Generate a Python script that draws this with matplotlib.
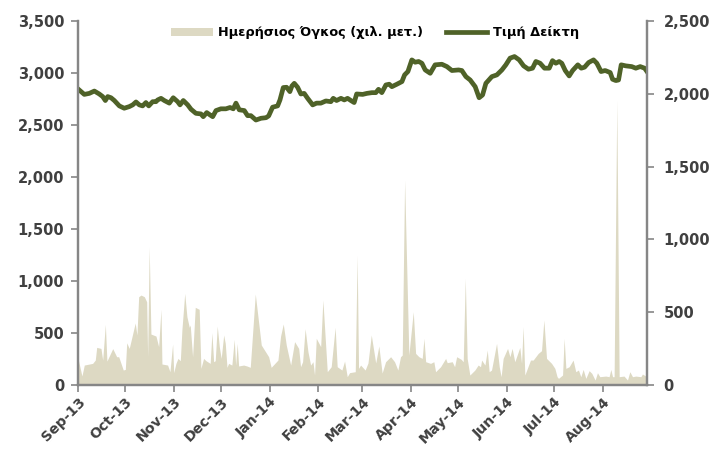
import numpy as np
import pandas as pd
import matplotlib
matplotlib.use('Agg')
import matplotlib.pyplot as plt
import matplotlib.dates as mdates
from matplotlib.ticker import MultipleLocator, FuncFormatter

# Daily volume (thousand shares): day offset from 2013-09-01, value
VOL_DAYS = [0, 2.5, 4.0, 9.3, 11.0, 11.9, 14.6, 15.7, 17.4, 18.4, 22.1, 24.6, 25.9,
            28.8, 30.1, 31.0, 32.6, 36.4, 37.5, 38.6, 40.1, 42.2, 43.7, 44.3, 45.3,
            46.4, 49.6, 51.3, 52.8, 53.4, 57.0, 58.5, 60.2, 60.9, 62.3, 63.6, 65.1,
            66.1, 67.9, 69.3, 70.8, 71.4, 72.9, 74.6, 77.1, 78.2, 79.9, 81.4, 84.1,
            85.2, 86.3, 87.3, 88.6, 89.9, 91.1, 92.7, 93.7, 94.8, 95.8, 97.9, 99.4,
            100.3, 101.3, 102.2, 105.4, 107.5, 109.6, 112.8, 116.6, 121.3, 122.9,
            127.2, 128.9, 130.6, 132.5, 135.3, 137.8, 140.4, 141.6, 142.9, 144.5,
            146.3, 148.0, 149.5, 150.5, 151.6, 154.4, 155.8, 158.6, 161.1, 163.6,
            164.9, 167.9, 169.6, 171.3, 172.8, 176.4, 177.6, 178.5, 179.8, 182.7,
            184.5, 186.6, 189.4, 191.4, 193.5, 195.7, 198.9, 201.4, 203.5, 205.2,
            206.3, 207.8, 210.5, 213.3, 214.8, 216.9, 219.0, 220.1, 221.2, 224.3,
            226.4, 227.5, 230.7, 233.9, 234.9, 238.1, 239.6, 240.9, 243.8, 245.1,
            246.4, 247.6, 249.3, 252.5, 254.6, 256.1, 256.8, 258.9, 260.4, 261.6,
            263.1, 266.3, 268.0, 269.2, 270.5, 273.3, 274.8, 276.2, 277.9, 281.1,
            282.2, 283.2, 284.3, 287.9, 289.6, 292.8, 294.9, 296.4, 298.1, 301.3,
            303.4, 304.8, 305.7, 308.3, 309.3, 310.4, 312.5, 315.0, 316.7, 318.4,
            319.9, 321.4, 323.1, 325.2, 326.9, 329.0, 330.5, 332.0, 335.8, 337.9,
            339.0, 340.1, 341.1, 342.8, 344.3, 347.4, 349.6, 351.1, 352.8, 354.9,
            358.1, 359.1, 361.2]
VOL_VALUES = [256, 87, 192, 208, 240, 362, 352, 240, 583, 230, 350, 272, 272,
              144, 150, 406, 352, 596, 481, 849, 865, 849, 800, 272, 1330,
              490, 471, 369, 728, 202, 192, 128, 394, 119, 208, 256, 234,
              529, 881, 657, 555, 577, 272, 747, 728, 160, 256, 234, 208,
              503, 224, 234, 567, 369, 256, 481, 400, 170, 208, 192, 439,
              192, 400, 183, 192, 183, 170, 875, 385, 272, 170,
              240, 471, 587, 385, 192, 417, 352, 176, 224, 541,
              320, 192, 224, 96, 449, 369, 817, 128, 176, 555,
              176, 144, 230, 80, 119, 128, 1250, 160, 192, 144,
              212, 481, 212, 375, 115, 224, 272, 224, 144, 272,
              288, 1971, 288, 705, 304, 272, 256, 449, 224, 208,
              224, 128, 176, 256, 215, 224, 176, 272, 247, 224,
              1026, 256, 96, 144, 192, 176, 240, 192, 336, 128,
              144, 400, 176, 80, 256, 352, 272, 352, 224, 362,
              208, 561, 96, 240, 240, 304, 330, 625, 256, 208,
              160, 80, 64, 96, 449, 160, 176, 240, 128, 144,
              80, 150, 64, 138, 112, 48, 118, 80, 86, 80,
              150, 80, 80, 2740, 80, 86, 48, 128, 80, 86,
              80, 106, 86]

# Index level: day offset from 2013-09-01, value
IDX_DAYS = [0.8, 4.0, 7.2, 10.4, 13.5, 15.7, 17.4, 18.9, 21.0, 23.1, 26.3, 29.4,
            32.6, 34.8, 36.9, 39.0, 41.1, 43.2, 45.0, 47.5, 49.6, 50.7, 52.8, 54.9,
            58.1, 60.6, 63.4, 64.9, 67.0, 69.8, 71.9, 75.0, 78.2, 79.7, 81.9, 84.0,
            85.7, 87.8, 90.9, 94.1, 96.7, 98.8, 100.5, 102.6, 105.8, 107.9, 110.0,
            113.2, 116.4, 119.6, 121.3, 123.8, 127.0, 128.5, 130.6, 132.7, 134.8,
            136.1, 137.6, 139.7, 141.8, 143.9, 146.1, 149.3, 151.8, 154.5, 157.7,
            160.9, 162.4, 164.5, 167.3, 169.4, 171.5, 173.6, 175.7, 177.3, 181.1,
            183.8, 187.0, 189.5, 191.2, 193.3, 195.9, 198.0, 199.7, 202.9, 206.1,
            207.8, 209.9, 212.4, 214.5, 216.7, 218.8, 220.9, 224.1, 227.2, 231.5,
            234.7, 237.9, 242.1, 244.2, 246.8, 249.5, 252.7, 255.2, 257.4, 259.5,
            263.3, 266.5, 269.7, 272.2, 274.9, 277.7, 280.7, 283.5, 286.6, 289.2,
            291.3, 294.0, 296.8, 299.8, 301.9, 304.0, 306.1, 307.8, 310.0, 312.5,
            314.7, 318.0, 320.2, 322.3, 324.9, 328.0, 330.1, 332.8, 335.4, 338.6,
            340.1, 342.2, 343.9, 345.6, 348.5, 352.3, 354.9, 357.7, 360.5, 362.0]
IDX_VALUES = [2026, 1996, 2003, 2019, 1999, 1981, 1954, 1981, 1973, 1954, 1917, 1901,
              1912, 1924, 1944, 1924, 1917, 1940, 1917, 1946, 1946, 1958, 1969, 1954,
              1936, 1973, 1946, 1924, 1954, 1924, 1894, 1866, 1862, 1843, 1871, 1855,
              1843, 1885, 1897, 1897, 1906, 1897, 1936, 1890, 1885, 1850, 1850,
              1820, 1832, 1836, 1848, 1908, 1917, 1958, 2043, 2045, 2015,
              2054, 2072, 2045, 1999, 2003, 1969, 1924, 1936, 1936, 1951,
              1946, 1969, 1954, 1969, 1958, 1969, 1954, 1940, 1999, 1996,
              2003, 2008, 2008, 2031, 2008, 2061, 2066, 2049, 2066, 2084,
              2130, 2153, 2233, 2217, 2222, 2210, 2164, 2141, 2199, 2203,
              2187, 2160, 2164, 2160, 2118, 2095, 2049, 1973, 1992, 2072,
              2118, 2130, 2164, 2199, 2245, 2256, 2233, 2192, 2169, 2176,
              2222, 2210, 2176, 2176, 2228, 2210, 2222, 2210, 2160, 2123,
              2160, 2199, 2176, 2183, 2215, 2233, 2210, 2153, 2160, 2146,
              2100, 2091, 2095, 2199, 2192, 2187, 2176, 2187, 2176, 2153]

START = pd.Timestamp('2013-09-01')
END = pd.Timestamp('2014-08-29')
LABEL_VOL = 'Ημερήσιος Όγκος (χιλ. μετ.)'
LABEL_IDX = 'Τιμή Δείκτη'

AREA_COLOR = '#DDD9C3'
LINE_COLOR = '#4F6228'
AXIS_COLOR = '#868686'
TEXT_COLOR = '#404040'

plt.rcParams['font.family'] = ['DejaVu Sans']
plt.rcParams['font.weight'] = 'bold'

vol_dates = START + pd.to_timedelta(VOL_DAYS, unit='D')
idx_dates = START + pd.to_timedelta(IDX_DAYS, unit='D')

fig = plt.figure(figsize=(7.13, 4.5), dpi=100)
ax = fig.add_axes([0.1094, 0.1444, 0.7980, 0.8089])
ax2 = ax.twinx()

# volume on the left axis, index line on the right axis
ax.fill_between(vol_dates, 0, VOL_VALUES, color=AREA_COLOR, linewidth=0,
                label=LABEL_VOL)
ax2.plot(idx_dates, IDX_VALUES, color=LINE_COLOR, linewidth=3.4,
         solid_joinstyle='round', label=LABEL_IDX)

ax.set_xlim(START, END)
ax.set_ylim(0, 3500)
ax2.set_ylim(0, 2500)
ax.yaxis.set_major_locator(MultipleLocator(500))
ax2.yaxis.set_major_locator(MultipleLocator(500))
fmt = FuncFormatter(lambda v, p: f'{int(v):,}')
ax.yaxis.set_major_formatter(fmt)
ax2.yaxis.set_major_formatter(fmt)

ax.xaxis.set_major_locator(mdates.MonthLocator())
ax.xaxis.set_major_formatter(mdates.DateFormatter('%b-%y'))

for a in (ax, ax2):
    a.spines['top'].set_visible(False)
    for s in ('left', 'right', 'bottom'):
        a.spines[s].set_color(AXIS_COLOR)
        a.spines[s].set_linewidth(1.6)
    a.tick_params(colors=AXIS_COLOR, labelcolor=TEXT_COLOR, labelsize=10.5,
                  width=1.2, length=5)
ax.tick_params(axis='x', pad=2, labelsize=10.2)
ax.tick_params(axis='y', pad=5)
ax2.tick_params(axis='y', pad=7)

for lab in ax.get_xticklabels() + ax.get_yticklabels() + ax2.get_yticklabels():
    lab.set_fontweight('bold')
for lab in ax.get_xticklabels():
    lab.set_rotation(45)
    lab.set_ha('right')
    lab.set_rotation_mode('anchor')

h1, l1 = ax.get_legend_handles_labels()
h2, l2 = ax2.get_legend_handles_labels()
leg = fig.legend(h1 + h2, l1 + l2, loc='center', ncol=2,
                 bbox_to_anchor=(0.526, 0.927), frameon=False,
                 handlelength=3.2, handleheight=0.6, columnspacing=1.8,
                 handletextpad=0.4, prop={'weight': 'bold', 'size': 9.3})
for t in leg.get_texts():
    t.set_color('black')

fig.savefig('out.png', dpi=100)
